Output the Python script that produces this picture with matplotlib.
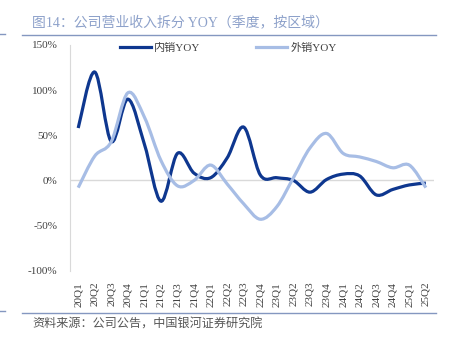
import numpy as np
import matplotlib
matplotlib.use('Agg')
import matplotlib.pyplot as plt
from matplotlib.path import Path
from matplotlib.patches import PathPatch
from matplotlib.lines import Line2D

plt.rcParams['font.family'] = ['Liberation Serif', 'Noto Sans CJK SC', 'DejaVu Sans']

quarters = ['20Q1', '20Q2', '20Q3', '20Q4', '21Q1', '21Q2', '21Q3', '21Q4',
            '22Q1', '22Q2', '22Q3', '22Q4', '23Q1', '23Q2', '23Q3', '23Q4',
            '24Q1', '24Q2', '24Q3', '24Q4', '25Q1', '25Q2']
domestic = [58, 120, 43, 90, 40, -23, 30, 8, 3, 25, 59, 6, 3, 0, -13, 1,
            7, 5, -16, -10, -5, -3]
overseas = [-8, 27, 43, 97, 70, 22, -6, 0, 17, -4, -26, -43, -29, 3, 36, 52,
            30, 26, 21, 14, 17, -8]

c_dom = '#0e378f'
c_ovs = '#a7bde5'
c_title = '#8da1ca'


def smooth_path(x, y):
    # Catmull-Rom style bezier, like spreadsheet "smoothed line"
    pts = np.column_stack([x, y]).astype(float)
    n = len(pts)
    verts = [pts[0]]
    codes = [Path.MOVETO]
    for i in range(n - 1):
        p0 = pts[i - 1] if i > 0 else pts[i]
        p1 = pts[i]
        p2 = pts[i + 1]
        p3 = pts[i + 2] if i + 2 < n else pts[i + 1]
        verts += [p1 + (p2 - p0) / 6, p2 - (p3 - p1) / 6, p2]
        codes += [Path.CURVE4] * 3
    return Path(verts, codes)


fig = plt.figure(figsize=(4.57, 3.38), dpi=100)
ax = fig.add_axes([0.153, 0.199, 0.797, 0.668])

xs = np.arange(len(quarters))
for vals, col in [(domestic, c_dom), (overseas, c_ovs)]:
    ax.add_patch(PathPatch(smooth_path(xs, vals), fill=False, edgecolor=col,
                           linewidth=2.3, capstyle='butt', zorder=3))

ax.axhline(0, color='#d9d9d9', linewidth=1.0, zorder=1)
ax.set_xlim(-0.5, len(quarters) - 0.5)
ax.set_ylim(-100, 150)
ax.set_yticks([-100, -50, 0, 50, 100, 150])
ax.set_yticklabels([f'{v}%' for v in [-100, -50, 0, 50, 100, 150]])
ax.set_xticks(xs)
ax.set_xticklabels(quarters, rotation=90)
ax.tick_params(axis='both', length=0, labelsize=8, colors='#404040')
ax.tick_params(axis='x', pad=8)
ax.tick_params(axis='y', pad=9)
for s in ['top', 'right', 'bottom']:
    ax.spines[s].set_visible(False)
ax.spines['left'].set_color('#d9d9d9')

handles = [Line2D([], [], color=c_dom, linewidth=2.3),
           Line2D([], [], color=c_ovs, linewidth=2.3)]
ax.legend(handles, ['内销YOY', '外销YOY'], loc='center',
          bbox_to_anchor=(228.5 / 457, 1 - 48 / 338),
          bbox_transform=fig.transFigure, ncol=2, frameon=False, fontsize=8,
          handlelength=2.8, columnspacing=5, handletextpad=0.3,
          labelcolor='#404040', borderpad=0, borderaxespad=0)

fig.text(32 / 457, 1 - 22 / 338, '图14：公司营业收入拆分 YOY（季度，按区域）',
         fontsize=10, color=c_title, va='center', ha='left')
fig.add_artist(Line2D([22 / 457, 436 / 457], [1 - 35 / 338] * 2,
                      color='#8497c0', linewidth=1))
fig.add_artist(Line2D([0, 5 / 457], [1 - 34 / 338] * 2,
                      color='#8497c0', linewidth=1))
fig.add_artist(Line2D([22 / 457, 436 / 457], [1 - 313 / 338] * 2,
                      color='#8497c0', linewidth=1))
fig.add_artist(Line2D([0, 5 / 457], [1 - 311 / 338] * 2,
                      color='#8497c0', linewidth=1))
fig.text(32 / 457, 1 - 325 / 338, '资料来源：公司公告，中国银河证券研究院',
         fontsize=8.7, color='#555555', style='italic', va='center', ha='left')

fig.savefig('out.png', dpi=100)
